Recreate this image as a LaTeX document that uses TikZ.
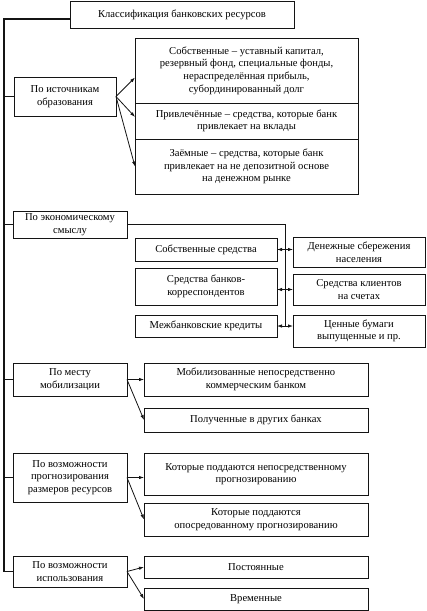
\documentclass[tikz,border=0pt]{standalone}
\usepackage{fontspec}
\setmainfont{Liberation Serif}
\usetikzlibrary{arrows.meta, positioning, calc}

\begin{document}
\begin{tikzpicture}[
    x=1pt, y=-1pt,
    >={Latex[length=5pt,width=3.5pt]},
    node distance=0pt,
    font=\fontsize{10.6}{12.6}\selectfont
]

\definecolor{boxline}{HTML}{141414}

\tikzset{
    box/.style={
        rectangle,
        draw=boxline,
        line width=0.9pt,
        align=center,
        inner sep=1pt,
        outer sep=0pt
    },
    catbox/.style={
        box,
        anchor=north west,
        minimum width=114pt
    },
    arr/.style={
        ->,
        draw=boxline,
        line width=0.8pt
    },
    dblarr/.style={
        <->,
        draw=boxline,
        line width=0.8pt
    },
    spine/.style={
        draw=boxline,
        line width=1.2pt
    }
}

\useasboundingbox (0,0) rectangle (427,611);

% Nodes
\node[box, anchor=north west, minimum width=224pt, minimum height=27pt] (title) at (70,1) {Классификация банковских ресурсов};

\node[box, anchor=north west, minimum width=102pt, minimum height=39pt] (src) at (14,77) {По источникам\\образования};
\node[box, anchor=north west, minimum width=223pt, minimum height=65pt] (srcA) at (135,38) {Собственные -- уставный капитал,\\резервный фонд, специальные фонды,\\нераспределённая прибыль,\\субординированный долг};
\node[box, below=of srcA, minimum width=223pt, minimum height=36pt] (srcB) {Привлечённые -- средства, которые банк\\привлекает на вклады};
\node[box, below=of srcB, minimum width=223pt, minimum height=55pt] (srcC) {Заёмные -- средства, которые банк\\привлекает на не депозитной основе\\на денежном рынке};

\node[catbox, minimum height=27pt] (econ) at (13,211) {По экономическому\\смыслу};
\node[box, anchor=north west, minimum width=142pt, minimum height=23pt] (own) at (135,238) {Собственные средства};
\node[box, anchor=north west, minimum width=142pt, minimum height=37pt] (corr) at (135,268) {Средства банков-\\корреспондентов};
\node[box, anchor=north west, minimum width=142pt, minimum height=22pt] (ibk) at (135,315) {Межбанковские кредиты};
\node[box, anchor=north west, minimum width=132pt, minimum height=30pt] (sav) at (293,237) {Денежные сбережения\\населения};
\node[box, anchor=north west, minimum width=132pt, minimum height=31pt] (cli) at (293,274) {Средства клиентов\\на счетах};
\node[box, anchor=north west, minimum width=132pt, minimum height=32pt] (sec) at (293,315) {Ценные бумаги\\выпущенные и пр.};

\node[catbox, minimum height=33pt] (mob) at (13,363) {По месту\\мобилизации};
\node[box, anchor=north west, minimum width=224pt, minimum height=33pt] (mobA) at (144,363) {Мобилизованные непосредственно\\коммерческим банком};
\node[box, anchor=north west, minimum width=224pt, minimum height=24pt] (mobB) at (144,408) {Полученные в других банках};

\node[catbox, minimum height=49pt] (prg) at (13,453) {По возможности\\прогнозирования\\размеров ресурсов};
\node[box, anchor=north west, minimum width=224pt, minimum height=42pt] (prgA) at (144,453) {Которые поддаются непосредственному\\прогнозированию};
\node[box, anchor=north west, minimum width=224pt, minimum height=33pt] (prgB) at (144,503) {Которые поддаются\\опосредованному прогнозированию};

\node[catbox, minimum height=31pt] (use) at (13,556) {По возможности\\использования};
\node[box, anchor=north west, minimum width=224pt, minimum height=22pt] (useA) at (144,556) {Постоянные};
\node[box, anchor=north west, minimum width=224pt, minimum height=22pt] (useB) at (144,588) {Временные};

% Spine
\coordinate (spinetop) at (4,19);
\draw[spine] ([yshift=9pt]title.south west) -- (spinetop) -- (spinetop |- use.west) -- (use.west);
\foreach \cat in {src, econ, mob, prg}
    \draw[spine] (spinetop |- \cat.west) -- (\cat.west);

% Edges for sources
\draw[arr] (src.east) -- ([yshift=-7pt]srcA.west);
\draw[arr] (src.east) -- ([yshift=4pt]srcB.west);
\draw[arr] (src.east) -- (srcC.west);

% Edges for economic sense
\coordinate (trunk) at ($(ibk.east)!0.5!(ibk.east -| sec.west)$);
\draw[boxline, line width=0.8pt] (econ.east) -| (trunk);
\draw[dblarr] (own.east) -- (own.east -| sav.west);
\draw[dblarr] (cli.west -| corr.east) -- (cli.west);
\draw[dblarr] (ibk.east) -- (ibk.east -| sec.west);

% Edges for mobilisation
\draw[arr] (mob.east) -- (mob.east -| mobA.west);
\draw[arr] (mob.east) -- (mobB.west);

% Edges for forecasting
\draw[arr] (prg.east) -- (prg.east -| prgA.west);
\draw[arr] (prg.east) -- (prgB.west);

% Edges for usage
\draw[arr] (use.east) -- (useA.west);
\draw[arr] (use.east) -- (useB.west);

\end{tikzpicture}
\end{document}
